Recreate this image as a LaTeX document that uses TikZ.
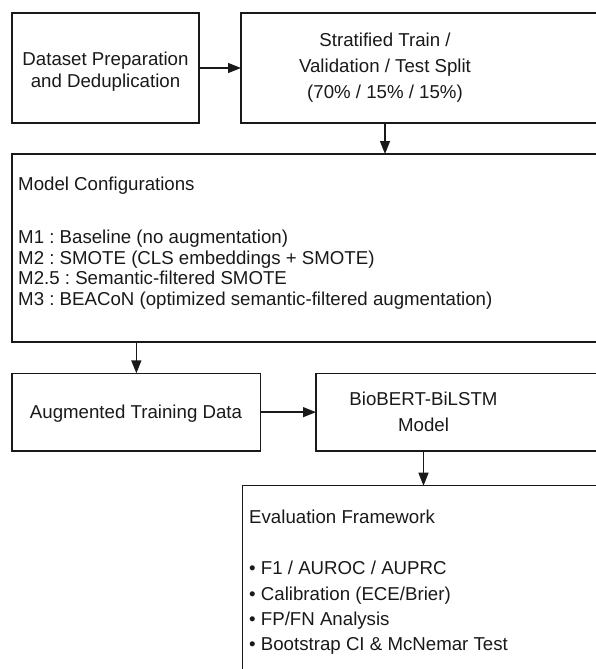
\documentclass[tikz,border=0pt]{standalone}
\usepackage{fontspec}
\setmainfont{Liberation Sans}
\frenchspacing
\usetikzlibrary{arrows.meta}

\tikzset{
  box/.style={draw=black!90, line width=1.4pt, inner sep=0pt, outer sep=0pt, anchor=north west},
  arr/.style={draw=black!90, line width=1.4pt, -{Triangle[length=13pt,width=10pt]}},
  txt/.style={inner sep=0pt, text=black!90, font=\fontsize{18.67pt}{22pt}\selectfont},
  ctxt/.style={txt, anchor=base},
  ltxt/.style={txt, anchor=base west},
}

\begin{document}
\begin{tikzpicture}[x=1pt, y=-1pt]
  \useasboundingbox (0,0) rectangle (596,669);
  \clip (0,0) rectangle (596,669);

  % boxes (the wide ones run past the right and bottom edges)
  \node[box, minimum width=187pt, minimum height=110pt] (b1) at (12,13) {};
  \node[box, minimum width=380pt, minimum height=110pt] (b2) at (241,13) {};
  \node[box, minimum width=608pt, minimum height=188pt] (b3) at (12,154) {};
  \node[box, minimum width=248.7pt, minimum height=77.7pt] (b4) at (12,373.3) {};
  \node[box, minimum width=300pt, minimum height=77.7pt] (b5) at (316,373.3) {};
  \node[box, minimum width=380pt, minimum height=220pt] (b6) at (242.7,485.7) {};

  % box texts
  \node[ctxt] (b1a) at (105.5,66) {Dataset Preparation};
  \node[ctxt] (b1b) at (105.5,88) {and Deduplication};

  \node[ctxt] (b2a) at (385,47) {Stratified Train /};
  \node[ctxt] (b2b) at (385,73) {Validation / Test Split};
  \node[ctxt] (b2c) at (385,99) {(70\% / 15\% / 15\%)};

  \node[ltxt] (b3a) at (18,190) {Model Configurations};
  \node[ltxt] (b3b) at (18,243.4) {M1 : Baseline (no augmentation)};
  \node[ltxt] (b3c) at (18,264) {M2 : SMOTE (CLS embeddings + SMOTE)};
  \node[ltxt] (b3d) at (18,284.5) {M2.5 : Semantic-filtered SMOTE};
  \node[ltxt] (b3e) at (18,305) {M3 : BEACoN (optimized semantic-filtered augmentation)};

  \node[ctxt] (b4a) at (136,418.4) {Augmented Training Data};

  \node[ctxt] (b5a) at (423.5,405.7) {BioBERT-BiLSTM};
  \node[ctxt] (b5b) at (423.5,431.7) {Model};

  \node[ltxt] (b6a) at (249,523.4) {Evaluation Framework};
  \node[ltxt] (b6b) at (249,574) {• F1 / AUROC / AUPRC};
  \node[ltxt] (b6c) at (249,600) {• Calibration (ECE/Brier)};
  \node[ltxt] (b6d) at (249,625) {• FP/FN Analysis};
  \node[ltxt] (b6e) at (249,650) {• Bootstrap CI \& McNemar Test};

  % connectors
  \draw[arr] (b1.east) -- (b2.west);
  \draw[arr] (b2a |- b2.south) -- (b2a |- b3.north);
  \draw[arr] (b4.north |- b3.south) -- (b4.north);
  \draw[arr] (b4.east) -- (b5.west |- b4.east);
  \draw[arr] (b5a |- b5.south) -- (b5a |- b6.north);
\end{tikzpicture}
\end{document}
